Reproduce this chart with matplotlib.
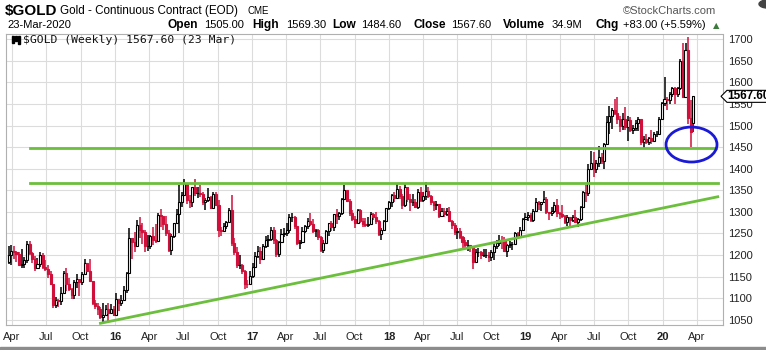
import numpy as np
import pandas as pd
import matplotlib
matplotlib.use("Agg")
import matplotlib.pyplot as plt
import matplotlib.dates as mdates
from matplotlib.patches import Ellipse, Rectangle, Polygon, Circle

plt.rcParams["font.family"] = ["Liberation Sans", "DejaVu Sans"]

# ── weekly $GOLD bars, weeks starting Monday 23-Mar-2015 ... 23-Mar-2020 ──────
first_week = "2015-03-23"
first_open = 1183.0
last_open = 1505.00

CLOSE = [
    # 2015
    1199, 1210, 1207, 1203, 1178, 1179, 1189, 1225, 1205, 1190,
    1169, 1180, 1201, 1173, 1168, 1157, 1132, 1085, 1095, 1094,
    1113, 1159, 1134, 1121, 1108, 1138, 1145, 1137, 1156, 1182,
    1162, 1141, 1088, 1081, 1076, 1057, 1062, 1075, 1066, 1076,
    1061,
    # 2016
    1098, 1089, 1096, 1118, 1158, 1239, 1231, 1221, 1270, 1259,
    1254, 1220, 1221, 1243, 1235, 1232, 1293, 1290, 1272, 1252,
    1212, 1244, 1275, 1295, 1322, 1340, 1366, 1327, 1322, 1357,
    1343, 1343, 1341, 1324, 1327, 1334, 1310, 1342, 1317, 1257,
    1255, 1268, 1276, 1304, 1227, 1208, 1178, 1178, 1162, 1134,
    1133, 1152,
    # 2017
    1173, 1197, 1210, 1191, 1221, 1236, 1238, 1258, 1234, 1203,
    1230, 1249, 1251, 1257, 1289, 1289, 1268, 1228, 1231, 1256,
    1268, 1280, 1272, 1256, 1257, 1242, 1212, 1228, 1255, 1274,
    1264, 1294, 1291, 1297, 1330, 1351, 1325, 1297, 1284, 1275,
    1304, 1280, 1272, 1269, 1273, 1296, 1288, 1280, 1248, 1257,
    1278, 1309,
    # 2018
    1322, 1338, 1332, 1352, 1337, 1316, 1357, 1330, 1323, 1324,
    1311, 1347, 1327, 1336, 1348, 1337, 1323, 1315, 1319, 1291,
    1303, 1295, 1302, 1279, 1270, 1254, 1255, 1242, 1231, 1223,
    1223, 1219, 1184, 1206, 1206, 1200, 1201, 1201, 1196, 1207,
    1222, 1229, 1236, 1234, 1210, 1223, 1226, 1226, 1252, 1241,
    1258, 1284,
    # 2019
    1287, 1292, 1282, 1303, 1322, 1318, 1322, 1329, 1299, 1298,
    1302, 1315, 1298, 1295, 1290, 1276, 1289, 1281, 1287, 1277,
    1284, 1311, 1346, 1344, 1400, 1413, 1400, 1413, 1426, 1419,
    1457, 1509, 1523, 1537, 1529, 1515, 1499, 1515, 1497, 1512,
    1489, 1494, 1505, 1514, 1462, 1468, 1463, 1472, 1465, 1481,
    1481, 1515,
    # 2020
    1553, 1562, 1560, 1572, 1587, 1573, 1586, 1649, 1566, 1674,
    1517, 1484, 1567.60,
]

HIGH = [
    1220, 1224, 1220, 1209, 1207, 1215, 1195, 1232, 1232, 1208,
    1197, 1194, 1206, 1205, 1189, 1176, 1164, 1133, 1104, 1099,
    1127, 1162, 1170, 1147, 1124, 1142, 1157, 1144, 1160, 1191,
    1180, 1190, 1141, 1097, 1090, 1080, 1088, 1085, 1089, 1087,
    1082,
    1112, 1098, 1107, 1128, 1160, 1263, 1240, 1253, 1281, 1287,
    1274, 1257, 1246, 1247, 1265, 1272, 1297, 1306, 1290, 1290,
    1257, 1248, 1275, 1307, 1362, 1345, 1377, 1368, 1338, 1358,
    1375, 1357, 1362, 1347, 1331, 1355, 1336, 1345, 1345, 1327,
    1266, 1275, 1280, 1308, 1338, 1240, 1218, 1200, 1180, 1165,
    1143, 1162,
    1182, 1207, 1220, 1219, 1226, 1244, 1246, 1264, 1264, 1237,
    1233, 1260, 1263, 1274, 1296, 1297, 1290, 1262, 1236, 1264,
    1270, 1285, 1297, 1283, 1261, 1260, 1244, 1234, 1258, 1274,
    1279, 1296, 1306, 1300, 1332, 1362, 1348, 1330, 1305, 1290,
    1307, 1307, 1285, 1286, 1289, 1299, 1298, 1300, 1282, 1262,
    1281, 1310,
    1326, 1341, 1345, 1366, 1360, 1342, 1365, 1357, 1342, 1341,
    1330, 1352, 1357, 1347, 1369, 1357, 1339, 1326, 1325, 1319,
    1310, 1309, 1308, 1311, 1282, 1274, 1263, 1262, 1245, 1236,
    1236, 1222, 1217, 1214, 1217, 1210, 1214, 1213, 1208, 1211,
    1229, 1234, 1246, 1244, 1241, 1226, 1233, 1230, 1253, 1254,
    1264, 1285,
    1298, 1299, 1298, 1306, 1331, 1326, 1323, 1349, 1334, 1300,
    1311, 1324, 1330, 1300, 1317, 1292, 1293, 1289, 1292, 1305,
    1286, 1313, 1349, 1362, 1411, 1442, 1439, 1421, 1453, 1437,
    1459, 1521, 1546, 1541, 1561, 1566, 1522, 1530, 1542, 1521,
    1520, 1501, 1512, 1519, 1515, 1475, 1480, 1474, 1490, 1484,
    1487, 1520,
    1555, 1613, 1566, 1577, 1590, 1590, 1590, 1653, 1691, 1692,
    1704, 1560, 1569.30,
]

LOW = [
    1180, 1178, 1192, 1183, 1176, 1170, 1169, 1182, 1201, 1182,
    1162, 1168, 1172, 1168, 1162, 1147, 1130, 1077, 1078, 1080,
    1085, 1113, 1117, 1116, 1098, 1098, 1124, 1106, 1130, 1156,
    1160, 1141, 1085, 1075, 1062, 1052, 1046, 1061, 1047, 1066,
    1058,
    1062, 1071, 1082, 1097, 1112, 1156, 1191, 1208, 1222, 1240,
    1226, 1208, 1210, 1215, 1224, 1229, 1232, 1265, 1258, 1245,
    1208, 1200, 1240, 1273, 1251, 1311, 1336, 1319, 1310, 1312,
    1336, 1331, 1335, 1316, 1305, 1324, 1306, 1308, 1314, 1241,
    1244, 1253, 1260, 1276, 1220, 1200, 1171, 1168, 1156, 1122,
    1124, 1133,
    1147, 1172, 1193, 1180, 1190, 1217, 1219, 1232, 1226, 1195,
    1196, 1228, 1241, 1243, 1251, 1277, 1261, 1224, 1214, 1229,
    1250, 1260, 1267, 1252, 1242, 1236, 1207, 1204, 1227, 1243,
    1256, 1256, 1271, 1282, 1292, 1327, 1322, 1290, 1278, 1263,
    1275, 1274, 1264, 1264, 1265, 1272, 1281, 1273, 1244, 1236,
    1255, 1278,
    1304, 1312, 1322, 1330, 1330, 1307, 1311, 1322, 1303, 1313,
    1308, 1307, 1322, 1322, 1328, 1332, 1316, 1302, 1304, 1286,
    1287, 1288, 1290, 1276, 1261, 1246, 1238, 1238, 1211, 1217,
    1209, 1206, 1167, 1183, 1195, 1192, 1196, 1194, 1185, 1187,
    1188, 1215, 1221, 1213, 1208, 1196, 1217, 1211, 1226, 1237,
    1239, 1256,
    1281, 1278, 1276, 1277, 1301, 1304, 1302, 1321, 1294, 1281,
    1290, 1297, 1287, 1283, 1285, 1272, 1268, 1267, 1276, 1274,
    1266, 1280, 1310, 1322, 1337, 1397, 1381, 1390, 1405, 1410,
    1400, 1456, 1480, 1491, 1525, 1504, 1485, 1490, 1490, 1465,
    1484, 1480, 1487, 1488, 1456, 1446, 1457, 1454, 1458, 1461,
    1474, 1480,
    1513, 1546, 1536, 1550, 1565, 1551, 1566, 1583, 1566, 1576,
    1504, 1451, 1484.60,
]

# support / resistance lines drawn on the chart (date, price)
support_1 = ("2015-05-18", "2020-05-22", 1447)
support_2 = ("2015-05-18", "2020-05-27", 1368)
trend = (("2015-11-23", 1042), ("2020-05-27", 1335))
circle_center = ("2020-03-18", 1456)

W, H = 766, 350
RED = "#d0103a"
GREEN = "#6cbf3c"
GRID = "#dcdcdc"

dates = pd.date_range(first_week, periods=len(CLOSE), freq="W-MON")
x = mdates.date2num(dates.to_pydatetime())
close = np.array(CLOSE, float)
high = np.array(HIGH, float)
low = np.array(LOW, float)
prev = np.r_[first_open, close[:-1]]
opens = prev.copy()
opens[-1] = last_open
colors = np.where(close >= prev, "black", RED)
faces = np.where(close > opens, "white", colors)

def d(s):
    return mdates.date2num(pd.Timestamp(s).to_pydatetime())

def fx(px):
    return px / W

def fy(py):
    return 1 - py / H

fig = plt.figure(figsize=(W / 100, H / 100), dpi=100, facecolor="white")
ax = fig.add_axes([fx(6), fy(325), (723 - 6) / W, (325 - 34) / H])

# ── candles ──────────────────────────────────────────────────────────────────
ax.vlines(x, low, high, colors=colors, lw=1.1, zorder=2)
ax.bar(x, close - opens, bottom=opens, width=5.5, color=faces,
       edgecolor=colors, linewidth=0.8, zorder=3)

# ── annotations ──────────────────────────────────────────────────────────────
for a, b, lvl in (support_1, support_2):
    ax.plot([d(a), d(b)], [lvl, lvl], color=GREEN, lw=2, zorder=4)
(t0, p0), (t1, p1) = trend
ax.plot([d(t0), d(t1)], [p0, p1], color=GREEN, lw=2, zorder=4)
ax.add_patch(Ellipse((d(circle_center[0]), circle_center[1]), 136, 81,
                     fill=False, ec="#1a1ad6", lw=2, zorder=5))

# ── axes ─────────────────────────────────────────────────────────────────────
ax.set_xlim(d("2015-03-16"), d("2020-06-10"))
ax.set_ylim(1038, 1712)
ax.yaxis.tick_right()
ax.set_yticks(np.arange(1050, 1701, 50))
ax.tick_params(axis="y", length=0, pad=4, labelsize=8, colors="#222")

ticks = pd.date_range("2015-04-01", "2020-04-01", freq="QS-JAN")
ax.set_xticks(mdates.date2num(ticks.to_pydatetime()))
ax.set_xticklabels([f"{t.year % 100}" if t.month == 1 else t.strftime("%b")
                    for t in ticks])
for lab, t in zip(ax.get_xticklabels(), ticks):
    if t.month == 1:
        lab.set_fontweight("bold")
ax.tick_params(axis="x", length=0, pad=5, labelsize=8, colors="#222")
ax.grid(True, color=GRID, lw=0.8, zorder=0)
ax.set_axisbelow(True)
for side in ("left", "top", "bottom"):
    ax.spines[side].set_color("#b0b0b0")
    ax.spines[side].set_linewidth(0.8)
ax.spines["right"].set_color("#b0b0b0")
ax.spines["right"].set_linestyle((0, (1, 1)))

# legend line inside plot
fig.add_artist(Rectangle((fx(12), fy(43)), 2 / W, 7 / H, color="black"))
fig.add_artist(Rectangle((fx(15), fy(41)), 2 / W, 5 / H, color="black"))
fig.add_artist(Rectangle((fx(18), fy(44)), 2 / W, 8 / H, color="black"))
fig.text(fx(23), fy(43), "$GOLD (Weekly) 1567.60 (23 Mar)",
         family="DejaVu Sans Mono", fontsize=8.2, color="#111", va="baseline")

# last price flag on the right axis
yp = ax.transData.transform((0, close[-1]))[1]
yt = yp / H
flag = [(721, 0), (727, -6), (768, -6), (768, 6), (727, 6)]
fig.add_artist(Polygon([(fx(px), yt + dy / H) for px, dy in flag],
                       closed=True, fc="white", ec="black", lw=0.8))
fig.text(fx(727), yt, f"{close[-1]:.2f}", fontsize=8.5, fontweight="bold",
         va="center", color="black")

# ── header ───────────────────────────────────────────────────────────────────
fig.text(fx(5), fy(15), "$GOLD", fontsize=11, fontweight="bold", va="baseline")
fig.text(fx(60), fy(14), "Gold - Continuous Contract (EOD)", fontsize=8.4,
         va="baseline")
fig.text(fx(247), fy(14), "CME", fontsize=7, va="baseline")
fig.text(fx(7), fy(28), "23-Mar-2020", fontsize=8, va="baseline")
row = [(167, "Open", True), (204, "1505.00", False), (252, "High", True),
       (286, "1569.30", False), (332, "Low", True), (361, "1484.60", False),
       (414, "Close", True), (451, "1567.60", False), (503, "Volume", True),
       (552, "34.9M", False), (595, "Chg", True),
       (623, "+83.00 (+5.59%)", False)]
for px, s, b in row:
    fig.text(fx(px), fy(28), s, fontsize=8.6 if b else 8,
             fontweight="bold" if b else "normal", va="baseline")
fig.text(fx(713), fy(28), "\u25b2", fontsize=6, color="#3a7a3a", va="baseline",
         family="DejaVu Sans")
fig.text(fx(623), fy(14), "\u00a9StockCharts.com", fontsize=8, color="#555",
         va="baseline")
fig.add_artist(Circle((fx(768), fy(4)), 9 / W, color="#444"))

# footer strip
fig.add_artist(Rectangle((0, 0), 1, 3 / H, color="#8c8c8c"))

fig.savefig("out.png", dpi=100, facecolor="white")
